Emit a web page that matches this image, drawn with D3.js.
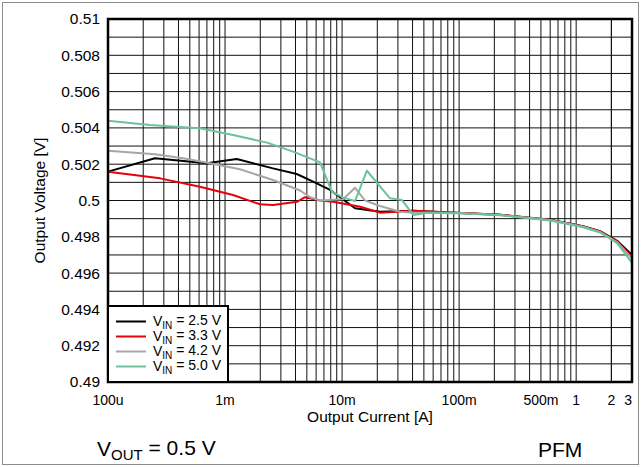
<!DOCTYPE html>
<html>
<head>
<meta charset="utf-8">
<script src="https://cdn.jsdelivr.net/npm/d3@7"></script>
<style>
  body { margin: 0; background: #fff; }
  svg { font-family: "Liberation Sans", Arial, sans-serif; }
</style>
</head>
<body>
<svg id="chart" width="641" height="467"></svg>
<script>
// series data: output current [A] and output voltage [V]
const cur25 = [1e-4, 2.52e-4, 6.97e-4, 1.26e-3, 2.57e-3, 4.1e-3, 5.65e-3, 7.9e-3, 1.29e-2, 2.11e-2, 4.05e-2, 8.4e-2, 0.224, 0.6, 1.15, 1.6, 2.24, 3];
const v25   = [0.50159, 0.50233, 0.50205, 0.50229, 0.50177, 0.50146, 0.50104, 0.50058, 0.49957, 0.49938, 0.49944, 0.49934, 0.49921, 0.49894, 0.49858, 0.49831, 0.49778, 0.49700];

const cur33 = [1e-4, 2.78e-4, 6.1e-4, 1.17e-3, 1.99e-3, 2.57e-3, 4.12e-3, 4.83e-3, 6.49e-3, 8.38e-3, 1.43e-2, 2.11e-2, 4.05e-2, 8.4e-2, 0.224, 0.6, 1.15, 1.6, 2.24, 3];
const v33   = [0.50159, 0.50122, 0.50076, 0.50030, 0.49979, 0.49975, 0.49993, 0.50018, 0.50000, 0.49993, 0.49966, 0.49933, 0.49944, 0.49934, 0.49921, 0.49893, 0.49857, 0.49829, 0.49775, 0.49690];

const cur42 = [1e-4, 2.52e-4, 4.38e-4, 7.44e-4, 1.34e-3, 2.57e-3, 4.38e-3, 5.33e-3, 6.49e-3, 1.02e-2, 1.29e-2, 1.57e-2, 2.11e-2, 3.13e-2, 4.05e-2, 8.4e-2, 0.224, 0.6, 1.15, 1.6, 2.24, 3];
const v42   = [0.50274, 0.50255, 0.50233, 0.50205, 0.50172, 0.50113, 0.50055, 0.50018, 0.50000, 0.50007, 0.50070, 0.50000, 0.49970, 0.49938, 0.49933, 0.49933, 0.49920, 0.49892, 0.49855, 0.49827, 0.49770, 0.49680];

const cur50 = [1e-4, 2.28e-4, 6.1e-4, 1.17e-3, 2.29e-3, 3.81e-3, 6.49e-3, 8.17e-3, 1.02e-2, 1.29e-2, 1.63e-2, 2.57e-2, 3.24e-2, 4.07e-2, 5.29e-2, 0.102, 0.224, 0.6, 1.15, 1.6, 2.24, 3];
const v50   = [0.50440, 0.50416, 0.50398, 0.50361, 0.50319, 0.50269, 0.50210, 0.50049, 0.50016, 0.49997, 0.50164, 0.50012, 0.50003, 0.49920, 0.49933, 0.49930, 0.49919, 0.49890, 0.49853, 0.49824, 0.49765, 0.49656];

const seriesNames = ["2.5 V", "3.3 V", "4.2 V", "5.0 V"];
const seriesColors = ["#000000", "#e8000b", "#a6a6a6", "#6cc39a"];
const xTickValues = [1e-4, 1e-3, 1e-2, 1e-1, 0.5, 1, 2, 3];
const xTickLabels = ["100u", "1m", "10m", "100m", "500m", "1", "2", "3"];
const yTickValues = [0.49, 0.492, 0.494, 0.496, 0.498, 0.5, 0.502, 0.504, 0.506, 0.508, 0.51];

const series = [[cur25, v25], [cur33, v33], [cur42, v42], [cur50, v50]].map(([c, v], i) => ({
    name: seriesNames[i],
    color: seriesColors[i],
    values: c.map((x, j) => ({ x, y: v[j] }))
}));

const svg = d3.select("#chart");
const pL = 108, pR = 632, pT = 19, pB = 382;

const x = d3.scaleLog().domain([1e-4, 3]).range([pL, pR]);
const y = d3.scaleLinear().domain([0.49, 0.51]).range([pB, pT]);

// outer frame
svg.append("rect")
    .attr("x", 2.5).attr("y", 2.5)
    .attr("width", 636).attr("height", 462)
    .attr("fill", "none")
    .attr("stroke", "#8c8c8c")
    .attr("stroke-width", 1);

// vertical grid: 1..9 per decade
const vGrid = [];
for (let e = -4; e <= 0; e++) {
    for (let m = 1; m <= 9; m++) {
        const v = m * Math.pow(10, e);
        if (v > 1e-4 && v < 3) vGrid.push(v);
    }
}
vGrid.push(2);

svg.append("g")
    .selectAll("line")
    .data(vGrid)
    .join("line")
    .attr("x1", d => x(d)).attr("x2", d => x(d))
    .attr("y1", pT).attr("y2", pB)
    .attr("stroke", "#111")
    .attr("stroke-width", 1);

// horizontal grid every 0.001
const hGrid = d3.range(1, 20).map(i => 0.49 + i * 0.001);
svg.append("g")
    .selectAll("line")
    .data(hGrid)
    .join("line")
    .attr("x1", pL).attr("x2", pR)
    .attr("y1", d => y(d)).attr("y2", d => y(d))
    .attr("stroke", "#111")
    .attr("stroke-width", 1);

// curves
const line = d3.line()
    .x(d => x(d.x))
    .y(d => y(d.y));

svg.append("g")
    .selectAll("path")
    .data(series)
    .join("path")
    .attr("d", d => line(d.values))
    .attr("fill", "none")
    .attr("stroke", d => d.color)
    .attr("stroke-width", 2)
    .attr("stroke-linejoin", "round");

// plot border
svg.append("rect")
    .attr("x", pL).attr("y", pT)
    .attr("width", pR - pL).attr("height", pB - pT)
    .attr("fill", "none")
    .attr("stroke", "#000")
    .attr("stroke-width", 2.5);

// y tick labels
svg.append("g")
    .selectAll("text")
    .data(yTickValues)
    .join("text")
    .attr("x", 100)
    .attr("y", d => y(d))
    .attr("dy", "0.35em")
    .attr("text-anchor", "end")
    .style("font-size", "15.5px")
    .text(d => d3.format("~g")(d));

// x tick labels (last one kept inside the frame)
svg.append("g")
    .selectAll("text")
    .data(xTickValues)
    .join("text")
    .attr("x", d => x(d))
    .attr("y", 400)
    .attr("dy", "0.35em")
    .attr("text-anchor", (d, i) => i === xTickValues.length - 1 ? "end" : "middle")
    .style("font-size", "14px")
    .text((d, i) => xTickLabels[i]);

// axis titles
svg.append("text")
    .attr("x", (pL + pR) / 2)
    .attr("y", 417)
    .attr("dy", "0.35em")
    .attr("text-anchor", "middle")
    .style("font-size", "15.5px")
    .text("Output Current [A]");

svg.append("text")
    .attr("transform", `translate(40,${(pT + pB) / 2}) rotate(-90)`)
    .attr("dy", "0.35em")
    .attr("text-anchor", "middle")
    .style("font-size", "15.5px")
    .text("Output Voltage [V]");

// legend
const lg = svg.append("g");
lg.append("rect")
    .attr("x", pL).attr("y", 306)
    .attr("width", 120).attr("height", pB - 306)
    .attr("fill", "#fff")
    .attr("stroke", "#000")
    .attr("stroke-width", 2);

const items = lg.selectAll("g")
    .data(series)
    .join("g")
    .attr("transform", (d, i) => `translate(0,${321.5 + i * 15})`);

items.append("line")
    .attr("x1", 116).attr("x2", 146)
    .attr("stroke", d => d.color)
    .attr("stroke-width", 2);

const lt = items.append("text")
    .attr("x", 153)
    .attr("dy", "0.35em")
    .style("font-size", "14px");
lt.append("tspan").text("V");
lt.append("tspan").attr("dy", "0.25em").style("font-size", "10px").text("IN");
lt.append("tspan").attr("dy", "-0.25em").text(d => " = " + d.name);

// footer notes
const vt = svg.append("text")
    .attr("x", 97).attr("y", 449)
    .attr("dy", "0.35em")
    .style("font-size", "21px");
vt.append("tspan").text("V");
vt.append("tspan").attr("dy", "0.25em").style("font-size", "15px").text("OUT");
vt.append("tspan").attr("dy", "-0.25em").text(" = 0.5 V");

svg.append("text")
    .attr("x", 538).attr("y", 450)
    .attr("dy", "0.35em")
    .style("font-size", "21px")
    .text("PFM");
</script>
</body>
</html>
